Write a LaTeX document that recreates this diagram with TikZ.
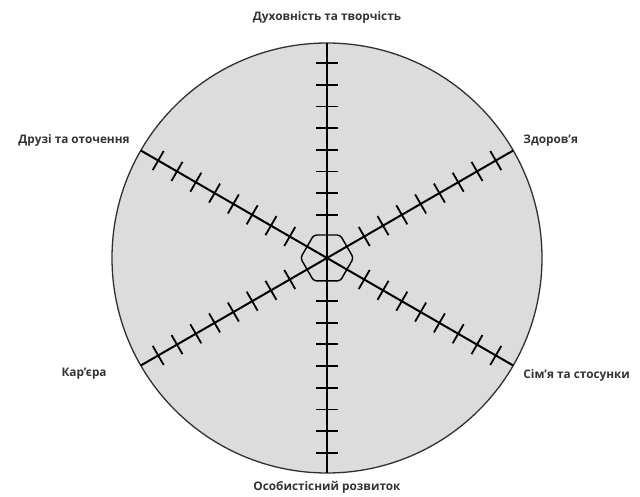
\documentclass[tikz,border=0pt]{standalone}
\usepackage{fontspec}
\setmainfont{Open Sans}
\usetikzlibrary{positioning,shapes.geometric}
\definecolor{wheelfill}{HTML}{DCDCDC}
\definecolor{wheelline}{HTML}{303030}
\definecolor{labeltext}{HTML}{333333}

\begin{document}
\begin{tikzpicture}[x=1pt, y=1pt,
  wheel/.style={draw=wheelline, circle, fill=wheelfill, line width=1.3pt, minimum size=430pt, inner sep=0pt, outer sep=0pt},
  hub/.style={draw=black, regular polygon, regular polygon sides=6, minimum size=53pt, inner sep=0pt, outer sep=0pt, line width=1.4pt, rounded corners=3pt},
  spoke/.style={draw=black, line width=2pt},
  tick/.style={draw=black, line width=1.8pt},
  sector/.style={font=\fontsize{11.8}{14}\selectfont\bfseries, text=labeltext, inner sep=0pt}
]
\useasboundingbox (-327,-239) rectangle (313,258);
\node[wheel] (wheel) at (0,0) {};
\node[hub] (hub) at (0,0) {};
% spokes and scale marks
\foreach \a in {90,30,150} {
  \draw[spoke] (wheel.\a) -- (wheel.\a+180);
  \foreach \k in {0,...,7} {
    \pgfmathsetmacro\r{43+21.7*\k}
    \draw[tick] (\a:\r) ++(\a+90:11) -- ++(\a-90:22);
    \draw[tick] (\a+180:\r) ++(\a+90:11) -- ++(\a-90:22);
  }
}
% sector labels
\node[sector, above=19pt of wheel.north] (spirit) {Духовність та творчість};
\node[sector, above right=4pt and 10pt of wheel.30] (health) {Здоров'я};
\node[sector, below right=4pt and 10pt of wheel.-30] (family) {Сім'я та стосунки};
\node[sector, below=8pt of wheel.south] (growth) {Особистісний розвиток};
\node[sector, below left=2pt and 34pt of wheel.210] (career) {Кар'єра};
\node[sector, above left=4pt and 11pt of wheel.150] (friends) {Друзі та оточення};
\end{tikzpicture}
\end{document}
